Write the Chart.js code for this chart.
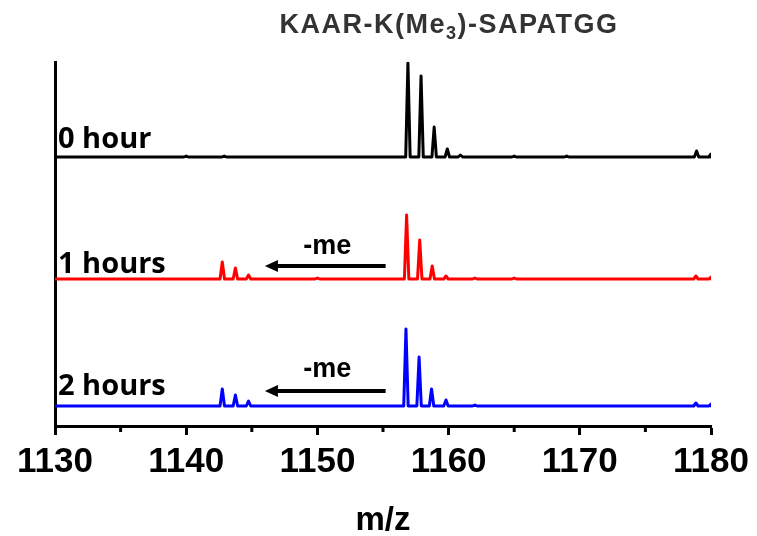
<!DOCTYPE html>
<html>
<head>
<meta charset="utf-8">
<script src="https://cdn.jsdelivr.net/npm/chart.js@4"></script>
<style>
  html, body { margin: 0; padding: 0; background: #fff; }
  #wrap { width: 757px; height: 536px; }
</style>
</head>
<body>
<div id="wrap"><canvas id="chart"></canvas></div>
<script>
// m/z axis
const mzMin = 1130;
const mzMax = 1180;
const tickLabels = [1130, 1140, 1150, 1160, 1170, 1180];
const minorTicks = [1135, 1145, 1155, 1165, 1175];

// peaks as [m/z, intensity] (arbitrary units)
const peaks0h = [[1140.0, 1], [1142.9, 1], [1156.9, 94], [1157.9, 81], [1158.9, 30], [1159.9, 8],
                 [1160.9, 2], [1165.0, 1], [1169.0, 1], [1178.9, 6], [1180.0, 3]];
const peaks1h = [[1142.75, 17], [1143.75, 11], [1144.75, 4], [1150.0, 1], [1156.8, 64], [1157.8, 39],
                 [1158.75, 13], [1159.8, 3], [1162.0, 1], [1165.0, 1], [1178.85, 3], [1180.0, 2]];
const peaks2h = [[1142.75, 17], [1143.75, 11], [1144.75, 5], [1156.75, 77], [1157.75, 49], [1158.7, 17],
                 [1159.8, 6], [1162.0, 1], [1178.85, 3], [1180.0, 2]];

// stacked traces
const seriesNames = ['0 hour', '1 hours', '2 hours'];
const seriesPeaks = [peaks0h, peaks1h, peaks2h];
const seriesOffsets = [269, 147, 20];
const seriesColors = ['#000000', '#ff0000', '#0000ff'];
const yMax = 364;

// "-me" shift arrows (from, to) on the 1 h and 2 h traces
const shiftFrom = 1155.2;
const shiftTo = 1146.0;

const halfWidth = 0.17;

function buildTrace(peaks, offset) {
    const pts = [{x: mzMin, y: offset}];
    peaks.forEach(([mz, h]) => {
        pts.push({x: mz - halfWidth, y: offset});
        pts.push({x: mz, y: offset + h});
        pts.push({x: mz + halfWidth, y: offset});
    });
    pts.push({x: mzMax, y: offset});
    return pts.filter(p => p.x <= mzMax);
}

const datasets = seriesNames.map((name, i) => ({
    label: name,
    data: buildTrace(seriesPeaks[i], seriesOffsets[i]),
    borderColor: seriesColors[i],
    borderWidth: 3,
    borderJoinStyle: 'round',
    pointRadius: 0,
    tension: 0,
    showLine: true
}));

const decorations = {
    id: 'decorations',
    afterDraw(chart) {
        const ctx = chart.ctx;
        const xs = chart.scales.x;
        const ys = chart.scales.y;
        const area = chart.chartArea;
        ctx.save();

        // minor ticks
        ctx.strokeStyle = '#000';
        ctx.lineWidth = 3;
        minorTicks.forEach(v => {
            const px = xs.getPixelForValue(v);
            ctx.beginPath();
            ctx.moveTo(px, area.bottom);
            ctx.lineTo(px, area.bottom + 6);
            ctx.stroke();
        });

        // trace names
        const nameLift = [9, 6, 11];
        ctx.fillStyle = '#000';
        ctx.font = 'bold 29px "Open Sans"';
        ctx.textAlign = 'left';
        ctx.textBaseline = 'alphabetic';
        seriesNames.forEach((name, i) => {
            ctx.fillText(name, xs.getPixelForValue(mzMin) + 3, ys.getPixelForValue(seriesOffsets[i] + nameLift[i]));
        });

        // -me arrows
        [[1, 13, 25], [2, 15, 29]].forEach(([i, arrowLift, textLift]) => {
            const y = ys.getPixelForValue(seriesOffsets[i] + arrowLift);
            const x1 = xs.getPixelForValue(shiftFrom);
            const x0 = xs.getPixelForValue(shiftTo);
            ctx.lineWidth = 4;
            ctx.beginPath();
            ctx.moveTo(x1, y);
            ctx.lineTo(x0 + 10, y);
            ctx.stroke();
            ctx.beginPath();
            ctx.moveTo(x0, y);
            ctx.lineTo(x0 + 13, y - 6);
            ctx.lineTo(x0 + 13, y + 6);
            ctx.closePath();
            ctx.fill();
            ctx.font = 'bold 27px "Liberation Sans", Arial, sans-serif';
            ctx.textAlign = 'center';
            ctx.fillText('-me', (x0 + x1) / 2 + 2, ys.getPixelForValue(seriesOffsets[i] + textLift));
        });

        // title with subscript
        const parts = [['KAAR-K(Me', 27, 0], ['3', 18, 6], [')-SAPATGG', 27, 0]];
        ctx.fillStyle = '#333333';
        ctx.textAlign = 'left';
        ctx.letterSpacing = '1.5px';
        let total = 0;
        parts.forEach(([t, size]) => {
            ctx.font = 'bold ' + size + 'px "Liberation Sans", Arial, sans-serif';
            total += ctx.measureText(t).width;
        });
        let tx = 449 - total / 2;
        parts.forEach(([t, size, drop]) => {
            ctx.font = 'bold ' + size + 'px "Liberation Sans", Arial, sans-serif';
            ctx.fillText(t, tx, 33 + drop);
            tx += ctx.measureText(t).width;
        });
        ctx.restore();
    }
};

new Chart(document.getElementById('chart'), {
    type: 'scatter',
    data: { datasets },
    options: {
        responsive: true,
        maintainAspectRatio: false,
        animation: false,
        layout: { padding: { left: 55, right: 46, top: 62, bottom: 0 } },
        plugins: {
            legend: { display: false },
            tooltip: { enabled: false }
        },
        scales: {
            x: {
                type: 'linear',
                min: mzMin,
                max: mzMax,
                afterFit: s => { s.height = 110; },
                afterBuildTicks: s => { s.ticks = tickLabels.map(v => ({ value: v })); },
                ticks: {
                    color: '#000',
                    padding: 6,
                    callback: v => String(v),
                    font: { family: '"Liberation Sans", Arial, sans-serif', size: 35, weight: 'bold' },
                    maxRotation: 0
                },
                grid: {
                    drawOnChartArea: false,
                    tickLength: 9,
                    tickWidth: 3,
                    tickColor: '#000'
                },
                border: { color: '#000', width: 3 },
                title: {
                    display: true,
                    text: 'm/z',
                    color: '#000',
                    padding: 0,
                    font: { family: '"Liberation Sans", Arial, sans-serif', size: 33, weight: 'bold', lineHeight: 0.9 }
                }
            },
            y: {
                min: 0,
                max: yMax,
                afterFit: s => { s.width = 0; },
                ticks: { display: false },
                grid: { display: false },
                border: { color: '#000', width: 3 }
            }
        }
    },
    plugins: [decorations]
});
</script>
</body>
</html>
